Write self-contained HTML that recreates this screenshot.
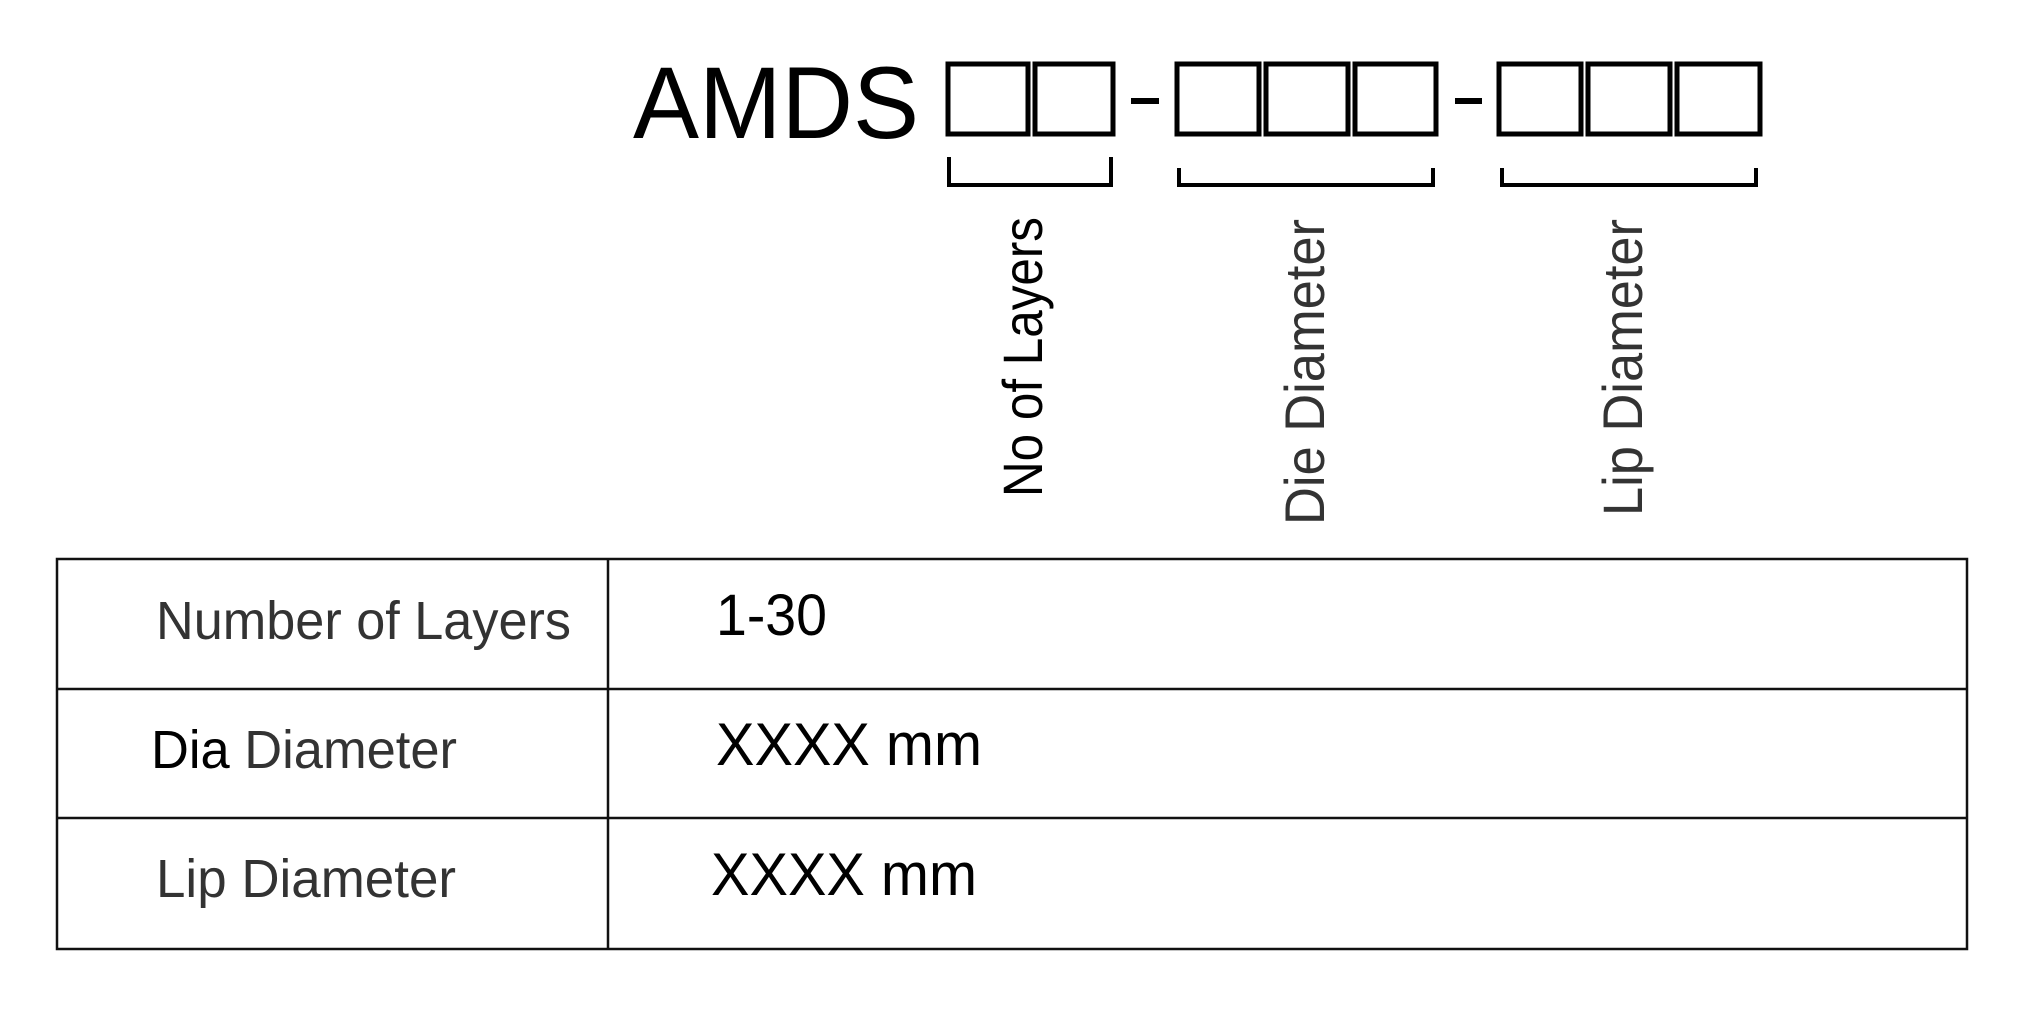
<!DOCTYPE html>
<html><head><meta charset="utf-8"><style>html,body{margin:0;padding:0;background:#fff}svg{display:block}</style></head>
<body>
<svg width="2024" height="1010" viewBox="0 0 2024 1010" xmlns="http://www.w3.org/2000/svg" font-family="Liberation Sans, sans-serif">
<rect width="2024" height="1010" fill="#fff"/>
<text x="633" y="138" font-size="102" fill="#000" textLength="286" lengthAdjust="spacingAndGlyphs">AMDS</text>
<g fill="none" stroke="#000" stroke-width="5">
<rect x="948" y="64" width="80" height="70"/>
<rect x="1035" y="64" width="78" height="70"/>
<rect x="1177" y="64" width="82" height="70"/>
<rect x="1266" y="64" width="82" height="70"/>
<rect x="1355" y="64" width="81" height="70"/>
<rect x="1499" y="64" width="82" height="70"/>
<rect x="1588" y="64" width="82" height="70"/>
<rect x="1677" y="64" width="83" height="70"/>
</g>
<rect x="1131" y="98" width="28" height="6" fill="#000"/>
<rect x="1455" y="98" width="27" height="6" fill="#000"/>
<g fill="none" stroke="#000" stroke-width="4">
<polyline points="949,157 949,185 1111,185 1111,157"/>
<polyline points="1179,168 1179,185 1433,185 1433,168"/>
<polyline points="1502,168 1502,185 1756,185 1756,168"/>
</g>
<text transform="translate(1042,497) rotate(-90)" font-size="56" fill="#000" textLength="280" lengthAdjust="spacingAndGlyphs">No of Layers</text>
<text transform="translate(1324,525) rotate(-90)" font-size="56" fill="#333" textLength="306" lengthAdjust="spacingAndGlyphs">Die Diameter</text>
<text transform="translate(1642,516) rotate(-90)" font-size="56" fill="#333" textLength="297" lengthAdjust="spacingAndGlyphs">Lip Diameter</text>
<g fill="none" stroke="#111" stroke-width="2.5">
<rect x="57" y="559" width="1910" height="390"/>
<line x1="608" y1="559" x2="608" y2="949"/>
<line x1="57" y1="689" x2="1967" y2="689"/>
<line x1="57" y1="818" x2="1967" y2="818"/>
</g>
<text x="156" y="639" font-size="54" fill="#333" textLength="415" lengthAdjust="spacingAndGlyphs">Number of Layers</text>
<text x="716" y="635" font-size="58" fill="#000" textLength="111" lengthAdjust="spacingAndGlyphs">1-30</text>
<text x="151" y="768" font-size="54" fill="#333" textLength="306" lengthAdjust="spacingAndGlyphs"><tspan fill="#000">Dia</tspan> Diameter</text>
<text x="716" y="765" font-size="60" fill="#000" textLength="266" lengthAdjust="spacingAndGlyphs">XXXX mm</text>
<text x="156" y="897" font-size="54" fill="#333" textLength="300" lengthAdjust="spacingAndGlyphs">Lip Diameter</text>
<text x="711" y="895" font-size="60" fill="#000" textLength="266" lengthAdjust="spacingAndGlyphs">XXXX mm</text>
</svg>
</body></html>
